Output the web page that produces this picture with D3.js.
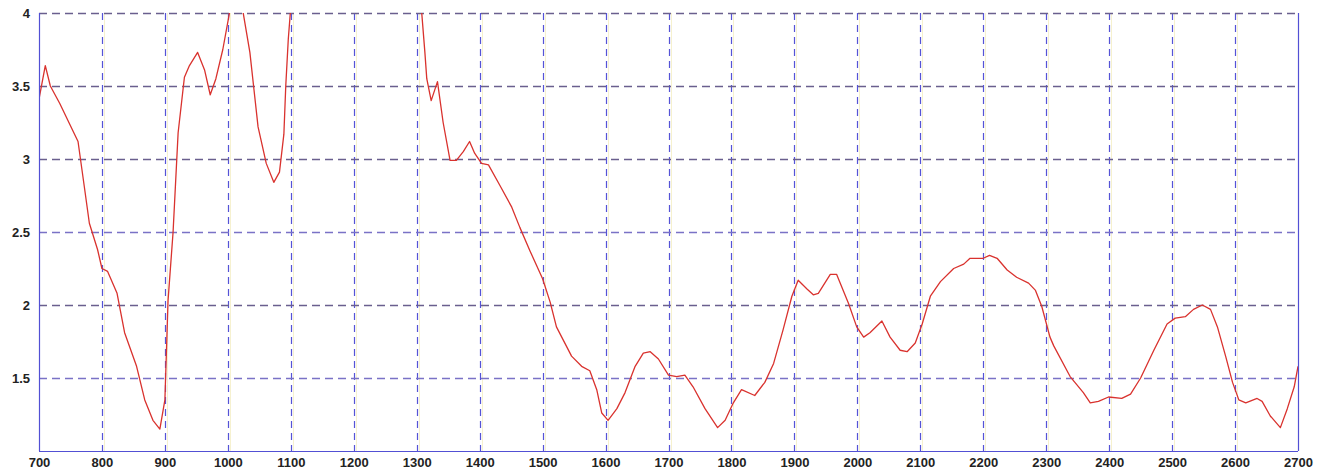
<!DOCTYPE html>
<html>
<head>
<meta charset="utf-8">
<script src="https://cdn.jsdelivr.net/npm/d3@7"></script>
<style>
  body { margin: 0; background: #fff; }
  svg { display: block; }
  .tick text { font-family: "Liberation Sans", Arial, sans-serif; font-weight: bold; font-size: 13px; fill: #222; }
</style>
</head>
<body>
<div id="chart"></div>
<script>
// wavelength positions and values
const xValues = [700, 710, 718, 733, 762, 772, 780, 793, 800, 809, 824, 836, 855, 868, 881, 892, 900, 905, 913, 921,
  931, 939, 952, 963, 972, 981, 992, 1003, 1014, 1024, 1035, 1048, 1061, 1073, 1082, 1089, 1092, 1096, 1110, 1150,
  1200, 1250, 1290, 1308, 1313, 1316, 1323, 1333, 1342, 1353, 1363, 1374, 1384, 1392, 1403, 1414, 1432, 1451, 1464, 1480,
  1500, 1512, 1522, 1546, 1562, 1575, 1586, 1594, 1604, 1618, 1631, 1647, 1660, 1671, 1684, 1700, 1713, 1726, 1739, 1758,
  1778, 1790, 1803, 1816, 1837, 1853, 1867, 1882, 1896, 1906, 1920, 1930, 1938, 1957, 1967, 1986, 1999, 2010, 2020, 2039,
  2052, 2068, 2079, 2092, 2103, 2116, 2132, 2153, 2169, 2179, 2200, 2210, 2222, 2238, 2253, 2272, 2283, 2293, 2306, 2312,
  2338, 2359, 2370, 2383, 2399, 2420, 2434, 2450, 2471, 2492, 2505, 2521, 2534, 2548, 2561, 2572, 2585, 2596, 2606, 2617,
  2635, 2643, 2656, 2672, 2683, 2694, 2700];
const yValues = [3.41, 3.64, 3.50, 3.38, 3.12, 2.81, 2.56, 2.38, 2.25, 2.23, 2.08, 1.81, 1.58, 1.35, 1.21, 1.15, 1.35, 2.03, 2.50, 3.18,
  3.56, 3.64, 3.73, 3.61, 3.44, 3.55, 3.75, 4.01, 4.15, 4.01, 3.73, 3.22, 2.97, 2.84, 2.91, 3.17, 3.50, 3.82, 4.6, 5.6,
  6.0, 5.6, 4.6, 4.0, 3.73, 3.55, 3.40, 3.53, 3.25, 2.99, 2.99, 3.05, 3.12, 3.04, 2.97, 2.96, 2.82, 2.67, 2.53, 2.37,
  2.18, 2.02, 1.85, 1.65, 1.58, 1.55, 1.42, 1.26, 1.21, 1.29, 1.40, 1.58, 1.67, 1.68, 1.63, 1.52, 1.51, 1.52, 1.44, 1.29,
  1.16, 1.21, 1.33, 1.42, 1.38, 1.47, 1.60, 1.83, 2.06, 2.17, 2.11, 2.07, 2.08, 2.21, 2.21, 2.01, 1.85, 1.78, 1.81, 1.89,
  1.78, 1.69, 1.68, 1.74, 1.87, 2.06, 2.16, 2.25, 2.28, 2.32, 2.32, 2.34, 2.32, 2.24, 2.19, 2.15, 2.10, 1.99, 1.78, 1.72,
  1.51, 1.40, 1.33, 1.34, 1.37, 1.36, 1.39, 1.50, 1.69, 1.87, 1.91, 1.92, 1.97, 2.00, 1.97, 1.85, 1.65, 1.47, 1.35, 1.33,
  1.36, 1.34, 1.24, 1.16, 1.29, 1.44, 1.58];

const xTicks = [700, 800, 900, 1000, 1100, 1200, 1300, 1400, 1500, 1600, 1700, 1800, 1900, 2000, 2100, 2200, 2300, 2400, 2500, 2600, 2700];
const yTicks = [1.5, 2, 2.5, 3, 3.5, 4];

const totalWidth = 1329, totalHeight = 471;
const margin = { top: 13, right: 31, bottom: 20, left: 39 };
const width = totalWidth - margin.left - margin.right;
const height = totalHeight - margin.top - margin.bottom;

const data = xValues.map((x, i) => ({ x: x, y: yValues[i] }));

const svg = d3.select("#chart")
  .append("svg")
  .attr("width", totalWidth)
  .attr("height", totalHeight)
  .append("g")
  .attr("transform", `translate(${margin.left},${margin.top})`);

const x = d3.scaleLinear().domain([700, 2700]).range([0, width]);
const y = d3.scaleLinear().domain([1, 4]).range([height, 0]);

// snap grid lines to the pixel grid so they stay crisp
const px = (v) => Math.round(v) + 0.5;

// faint yellow halo that sits next to the grid in the original
svg.append("g")
  .selectAll("line")
  .data(xTicks.slice(1, -1))
  .enter()
  .append("line")
  .attr("x1", (d) => px(x(d)) + 2).attr("x2", (d) => px(x(d)) + 2)
  .attr("y1", 0).attr("y2", height)
  .attr("stroke", "#f6f1cf")
  .attr("stroke-width", 1);

// vertical grid
svg.append("g")
  .attr("class", "grid x")
  .selectAll("line")
  .data(xTicks.slice(1, -1))
  .enter()
  .append("line")
  .attr("x1", (d) => px(x(d))).attr("x2", (d) => px(x(d)))
  .attr("y1", 0).attr("y2", height)
  .attr("stroke", "#5553d6")
  .attr("stroke-width", 1.2)
  .attr("stroke-dasharray", "7,5");

// horizontal grid
svg.append("g")
  .attr("class", "grid y")
  .selectAll("line")
  .data(yTicks)
  .enter()
  .append("line")
  .attr("x1", 0).attr("x2", width)
  .attr("y1", (d) => px(y(d))).attr("y2", (d) => px(y(d)))
  .attr("stroke", (d) => (d === 1.5 || d === 2.5 ? "#7a72c6" : "#6a5f8e"))
  .attr("stroke-width", 1.4)
  .attr("stroke-dasharray", "8,5");

// clip for the part of the curve that goes over the top
svg.append("clipPath")
  .attr("id", "plot-clip")
  .append("rect")
  .attr("width", width)
  .attr("height", height);

const line = d3.line()
  .x((d) => x(d.x))
  .y((d) => y(d.y));

svg.append("path")
  .datum(data)
  .attr("clip-path", "url(#plot-clip)")
  .attr("fill", "none")
  .attr("stroke", "#d9322e")
  .attr("stroke-width", 1.3)
  .attr("stroke-linejoin", "round")
  .attr("d", line);

// frame: left, right and bottom solid blue
const frameColor = "#5250d4";
svg.append("line").attr("x1", px(0)).attr("x2", px(0)).attr("y1", 0).attr("y2", height)
  .attr("stroke", frameColor).attr("stroke-width", 1.2);
svg.append("line").attr("x1", px(width)).attr("x2", px(width)).attr("y1", 0).attr("y2", height)
  .attr("stroke", frameColor).attr("stroke-width", 1.2);
svg.append("line").attr("x1", 0).attr("x2", width).attr("y1", px(height)).attr("y2", px(height))
  .attr("stroke", frameColor).attr("stroke-width", 1.2);

// Add the X Axis labels
svg.append("g")
  .attr("class", "x axis")
  .attr("transform", `translate(0,${height})`)
  .call(d3.axisBottom(x).tickValues(xTicks).tickSize(0).tickPadding(7).tickFormat(d3.format("d")))
  .call((g) => g.select(".domain").remove());

// Add the Y Axis labels
svg.append("g")
  .attr("class", "y axis")
  .call(d3.axisLeft(y).tickValues(yTicks).tickSize(0).tickPadding(9).tickFormat((d) => String(d)))
  .call((g) => g.select(".domain").remove());
</script>
</body>
</html>
